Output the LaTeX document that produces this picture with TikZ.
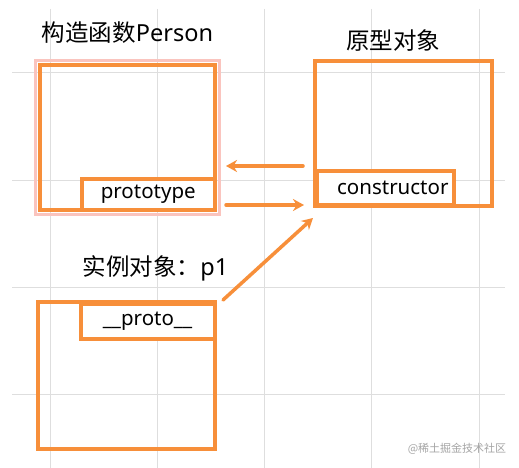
\documentclass[tikz,border=0pt]{standalone}
\usepackage{fontspec}
\setmainfont{Noto Sans}
\newfontfamily\cjk{Noto Sans CJK SC}
\usetikzlibrary{arrows.meta}
\definecolor{boxorange}{RGB}{247,143,58}
\definecolor{gridgray}{RGB}{222,222,222}
\definecolor{halopink}{RGB}{250,196,190}
\definecolor{markgray}{RGB}{165,165,165}
\tikzset{
  objbox/.style={draw=boxorange, line width=4pt, inner sep=0pt},
  slot/.style={draw=boxorange, line width=4pt, fill=white, inner sep=0pt, font=\fontsize{20.5}{24}\selectfont},
  title/.style={font=\fontsize{23.5}{28}\selectfont, inner sep=0pt},
  link/.style={draw=boxorange, line width=3.5pt, line cap=round, -{Stealth[length=11pt, width=12pt]}},
  gridline/.style={draw=gridgray, line width=0.8pt}
}
\begin{document}
\begin{tikzpicture}[x=1pt, y=-1pt]
\useasboundingbox (0,0) rectangle (519,468);
\fill[white] (0,0) rectangle (519,468);
% background grid
\foreach \x in {50,157,264,371,479}
  \draw[gridline] (\x,9) -- (\x,468);
\foreach \y in {72,180,287,394}
  \draw[gridline] (12,\y) -- (505,\y);

% constructor Person
\node[objbox, minimum width=175.5pt, minimum height=145pt] (person) at (127.25,137.5) {};
\draw[halopink, line width=3pt] ([shift={(-2.5,-2.5)}]person.north west) rectangle ([shift={(2.5,2.5)}]person.south east);
\node[objbox, minimum width=175.5pt, minimum height=145pt] at (person) {};
\node[slot, anchor=south east, minimum width=133.5pt, minimum height=31pt] (prototype) at (person.south east) {prototype};
\node[title] (persontitle) at (127.5,33) {{\cjk 构造函数}Person};

% prototype object
\node[objbox, minimum width=176.5pt, minimum height=145pt] (protoobj) at (403.25,133.5) {};
\node[slot, anchor=south west, minimum height=33.5pt, text width=126.5pt, inner xsep=5pt, align=right] (ctor) at ([shift={(2,-1.5)}]protoobj.south west) {constructor};
\node[title] (objtitle) at (393,41) {\cjk 原型对象};

% instance p1
\node[objbox, minimum width=176.5pt, minimum height=147pt] (inst) at (126.25,375.5) {};
\node[slot, anchor=north east, minimum width=134pt, minimum height=35pt] (dunder) at ([shift={(0,1.5)}]inst.north east) {\_\_proto\_\_};
\node[title] (insttitle) at (155.5,268) {{\cjk 实例对象：}p1};

% arrows
\coordinate (ctorout) at (303,166);
\coordinate (personin) at (226,166);
\coordinate (protoout) at (226,205);
\coordinate (objin) at (304,205);
\coordinate (dunderout) at (223,300);
\coordinate (objcorner) at (313,218);
\draw[link] (ctorout) -- (personin);
\draw[link] (protoout) -- (objin);
\draw[link] (dunderout) -- (objcorner);

\node[markgray, font=\cjk\fontsize{11}{13}\selectfont, inner sep=0pt] (mark) at (457,449) {@稀土掘金技术社区};
\end{tikzpicture}
\end{document}
